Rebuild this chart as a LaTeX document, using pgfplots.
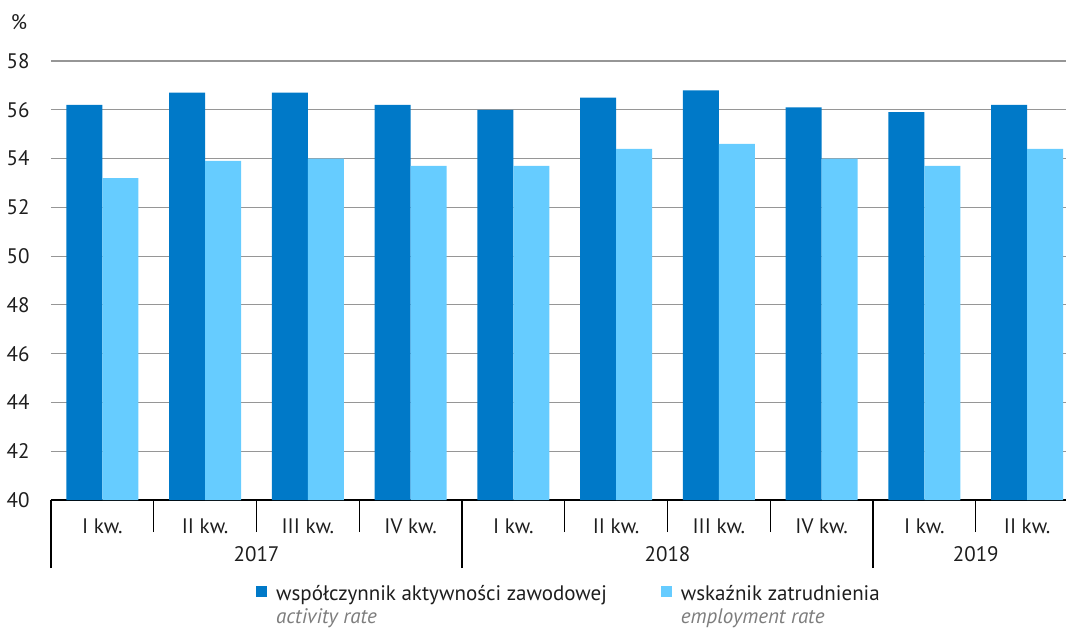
\documentclass[border=0pt]{standalone}
\usepackage{pgfplots}
\pgfplotsset{compat=1.18}
\usepackage{fontspec}
\setmainfont{PT Sans}
\definecolor{dblue}{RGB}{0,121,200}
\definecolor{lblue}{RGB}{102,204,255}
\definecolor{txt}{RGB}{30,30,30}
\definecolor{gridc}{RGB}{150,150,150}
\definecolor{itgray}{RGB}{125,125,125}
\begin{document}
\begin{tikzpicture}[font=\fontsize{21}{25}\selectfont, text=txt]
\useasboundingbox (0,0) rectangle (1066pt,630pt);
\begin{axis}[
 at={(51pt,130pt)}, anchor=south west,
 scale only axis, width=1015pt, height=439pt,
 xmin=-0.5, xmax=9.378, ymin=40, ymax=58,
 ytick={40,42,...,58},
 ymajorgrids, grid style={gridc, line width=1.2pt},
 axis x line=bottom, axis y line=left,
 axis line style={-},
 y axis line style={draw=none},
 x axis line style={black, line width=1.3pt},
 ytick style={draw=none},
 tick label style={font=\fontsize{21}{25}\selectfont, text=txt},
 yticklabel style={anchor=east, inner sep=0pt, xshift=-17pt},
 /pgf/number format/assume math mode=true,
 xtick={0,...,9},
 xticklabels={I kw.,II kw.,III kw.,IV kw.,I kw.,II kw.,III kw.,IV kw.,I kw.,II kw.},
 xticklabel style={anchor=base, inner sep=0pt, yshift=-29pt},
 major x tick style={draw=none},
 minor xtick={0.5,1.5,2.5,4.5,5.5,6.5,8.5},
 minor x tick style={black, line width=1.3pt},
 minor tick length=32pt,
 tick align=outside,
 extra x ticks={-0.5,3.5,7.5},
 extra x tick labels={},
 extra x tick style={major x tick style={draw=black, line width=1.3pt}, major tick length=68pt},
 ybar=0pt, bar width=0.35,
 legend columns=2,
 legend cell align=left,
 legend style={draw=none, fill=none, font=\fontsize{21}{25}\selectfont,
   at={(axis description cs:0.199,-0.19)}, anchor=north west,
   nodes={inner sep=0pt, text height=15pt, text depth=5pt},
   row sep=3pt,
   /tikz/every odd column/.style={column sep=9pt},
   /tikz/every even column/.style={column sep=54pt}},
 legend image code/.code={\fill[#1, draw=none] (0pt,-1pt) rectangle (11pt,10pt);},
 after end axis/.code={
   \node[anchor=base, inner sep=0pt] at (axis cs:1.5,40) [yshift=-61pt] {2017};
   \node[anchor=base, inner sep=0pt] at (axis cs:5.5,40) [yshift=-61pt] {2018};
   \node[anchor=base, inner sep=0pt] at (axis cs:8.5,40) [yshift=-61pt] {2019};
   \node[inner sep=0pt] at (rel axis cs:0,1) [xshift=-32pt, yshift=39pt] {\%};
 },
]
\addplot[fill=dblue, draw=none] table[x=q, y=v] {
q v
0 56.2
1 56.7
2 56.7
3 56.2
4 56.0
5 56.5
6 56.8
7 56.1
8 55.9
9 56.2
};
\addplot[fill=lblue, draw=none] table[x=q, y=v] {
q v
0 53.2
1 53.9
2 54.0
3 53.7
4 53.7
5 54.4
6 54.6
7 54.0
8 53.7
9 54.4
};
\addlegendimage{empty legend}
\addlegendimage{empty legend}
\legend{współczynnik aktywności zawodowej, wskaźnik zatrudnienia, {\itshape\color{itgray}activity rate}, {\itshape\color{itgray}employment rate}}
\end{axis}
\end{tikzpicture}
\end{document}
